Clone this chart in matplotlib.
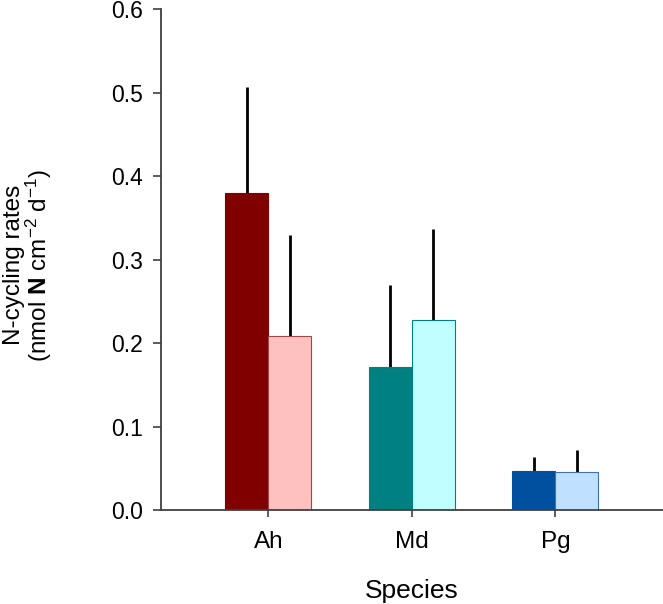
import matplotlib
matplotlib.use("Agg")
import matplotlib.pyplot as plt
import numpy as np

plt.rcParams['font.family'] = ['Liberation Sans', 'DejaVu Sans']
plt.rcParams['mathtext.fontset'] = 'custom'
plt.rcParams['mathtext.rm'] = 'Liberation Sans'
plt.rcParams['mathtext.it'] = 'Liberation Sans:italic'
plt.rcParams['mathtext.bf'] = 'Liberation Sans:bold'

species = ["Ah", "Md", "Pg"]
series1 = [0.380, 0.171, 0.047]
series1_err = [0.127, 0.099, 0.016]
series2 = [0.209, 0.228, 0.045]
series2_err = [0.121, 0.109, 0.027]
yticks = [0.0, 0.1, 0.2, 0.3, 0.4, 0.5, 0.6]

colors1 = ["#800000", "#008080", "#0050A0"]
colors2 = ["#FFC0C0", "#C0FFFF", "#C0E0FF"]
edges2 = ["#A04848", "#008080", "#4070B0"]

fig = plt.figure(figsize=(6.63, 6.04), dpi=100)
ax = fig.add_axes([0.2424, 0.1556, 0.7576, 0.8287])

x = np.arange(1, len(species) + 1)
w = 0.3
ax.bar(x - w / 2, series1, width=w, color=colors1, edgecolor=colors1, linewidth=0.8, zorder=2)
ax.bar(x + w / 2, series2, width=w, color=colors2, edgecolor=edges2, linewidth=0.8, zorder=2)
ax.errorbar(x - w / 2, series1, yerr=[np.zeros(3), series1_err], fmt='none',
            ecolor='black', elinewidth=2.0, capsize=0, zorder=1)
ax.errorbar(x + w / 2, series2, yerr=[np.zeros(3), series2_err], fmt='none',
            ecolor='black', elinewidth=2.0, capsize=0, zorder=1)

ax.set_xlim(0.25, 3.75)
ax.set_ylim(0, 0.6)
ax.set_xticks(x)
ax.set_xticklabels(species)
ax.set_yticks(yticks)
ax.set_yticklabels([f"{v:.1f}" for v in yticks])
for s in ['top', 'right']:
    ax.spines[s].set_visible(False)
for s in ['left', 'bottom']:
    ax.spines[s].set_color('#404040')
    ax.spines[s].set_linewidth(1.3)
ax.tick_params(axis='y', direction='out', length=6, width=1.2, color='#404040', labelsize=16.5, pad=7)
ax.tick_params(axis='x', direction='out', length=5, width=1.2, color='#404040', labelsize=17.5, pad=10)

ax.set_xlabel("Species", fontsize=19, labelpad=19)
fig.text(0.021, 0.561, "N-cycling rates", rotation=90,
         ha='center', va='center', fontsize=17.5)
fig.text(0.058, 0.561, "(nmol $\\mathbf{N}$ cm$^{-2}$ d$^{-1}$)", rotation=90,
         ha='center', va='center', fontsize=17.5)

fig.savefig("out.png", dpi=100)
